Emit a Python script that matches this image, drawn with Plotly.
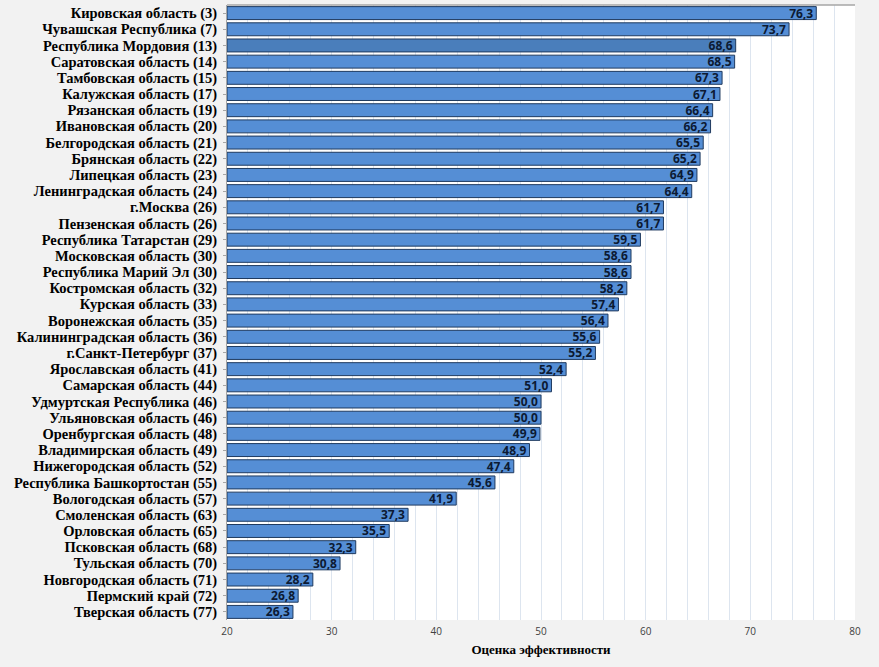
import plotly.graph_objects as go

regions = [
    "Кировская область (3)", "Чувашская Республика (7)", "Республика Мордовия (13)",
    "Саратовская область (14)", "Тамбовская область (15)", "Калужская область (17)",
    "Рязанская область (19)", "Ивановская область (20)", "Белгородская область (21)",
    "Брянская область (22)", "Липецкая область (23)", "Ленинградская область (24)",
    "г.Москва (26)", "Пензенская область (26)", "Республика Татарстан (29)",
    "Московская область (30)", "Республика Марий Эл (30)", "Костромская область (32)",
    "Курская область (33)", "Воронежская область (35)", "Калининградская область (36)",
    "г.Санкт-Петербург (37)", "Ярославская область (41)", "Самарская область (44)",
    "Удмуртская Республика (46)", "Ульяновская область (46)", "Оренбургская область (48)",
    "Владимирская область (49)", "Нижегородская область (52)", "Республика Башкортостан (55)",
    "Вологодская область (57)", "Смоленская область (63)", "Орловская область (65)",
    "Псковская область (68)", "Тульская область (70)", "Новгородская область (71)",
    "Пермский край (72)", "Тверская область (77)",
]
scores = [
    76.3, 73.7, 68.6, 68.5, 67.3, 67.1, 66.4, 66.2, 65.5, 65.2, 64.9, 64.4,
    61.7, 61.7, 59.5, 58.6, 58.6, 58.2, 57.4, 56.4, 55.6, 55.2, 52.4, 51.0,
    50.0, 50.0, 49.9, 48.9, 47.4, 45.6, 41.9, 37.3, 35.5, 32.3, 30.8, 28.2,
    26.8, 26.3,
]
axis_min = 20
highlight = "Республика Мордовия (13)"

colors = ["#4a7ebb" if r == highlight else "#558ed5" for r in regions]
labels = [f"{v:.1f}".replace(".", ",") for v in scores]

fig = go.Figure(go.Bar(
    y=regions,
    x=[v - axis_min for v in scores],
    base=axis_min,
    orientation="h",
    marker=dict(color=colors, line=dict(color="#1f3a5f", width=1)),
    text=labels,
    textposition="inside",
    insidetextanchor="end",
    textangle=0,
    textfont=dict(family="Open Sans, Liberation Sans, sans-serif", size=12,
                  color="#0c1a33", weight="bold"),
    constraintext="none",
    hovertemplate="%{y}: %{text}<extra></extra>",
))

fig.update_layout(
    width=879, height=667,
    paper_bgcolor="#f2f2f2",
    plot_bgcolor="#ffffff",
    margin=dict(l=227, r=24, t=5, b=47),
    bargap=0.2,
    showlegend=False,
    separators=", ",
    shapes=[dict(type="line", xref="paper", yref="paper", x0=0, x1=1, y0=1, y1=1,
                 line=dict(color="#a6a6a6", width=1.5))],
)
fig.update_xaxes(
    range=[20, 80],
    dtick=10,
    tick0=20,
    showgrid=True,
    gridcolor="#dde5ef",
    gridwidth=1,
    minor=dict(dtick=2, showgrid=True, gridcolor="#dde5ef", gridwidth=1),
    zeroline=False,
    showline=False,
    ticks="",
    ticklabelstandoff=4,
    tickfont=dict(family="Open Sans, Liberation Sans, sans-serif", size=10, color="#404040"),
    title=dict(text="Оценка эффективности",
               font=dict(family="Liberation Serif, Times New Roman, serif", size=13,
                         color="#000000", weight="bold"),
               standoff=7),
)
fig.update_yaxes(
    categoryorder="array",
    categoryarray=list(reversed(regions)),
    autorange=False,
    range=[-0.5, len(regions) - 0.5],
    tickmode="array",
    tickvals=regions,
    ticktext=regions,
    showline=True,
    linecolor="#a6a6a6",
    linewidth=1,
    ticks="outside",
    ticklen=3,
    tickcolor="#a6a6a6",
    showgrid=False,
    tickfont=dict(family="Liberation Serif, Times New Roman, serif", size=14.5,
                  color="#000000", weight="bold"),
    ticklabelstandoff=3,
)

fig.write_html("out.html",
               config={"displayModeBar": False},
               post_script="document.body.style.margin='0';document.body.style.overflow='hidden';")
